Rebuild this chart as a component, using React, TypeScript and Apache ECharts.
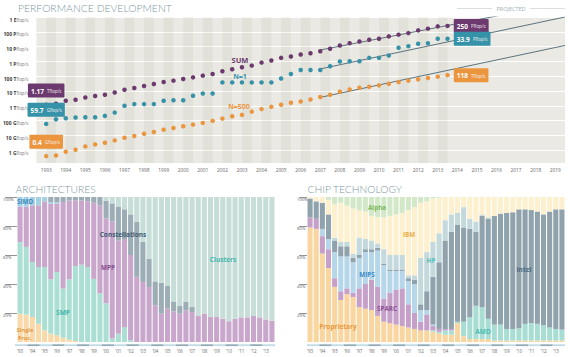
import React, { useEffect, useRef } from 'react';
import * as echarts from 'echarts';

// ---------- PERFORMANCE DEVELOPMENT ----------
const yearLabels = ['1993','1994','1995','1996','1997','1998','1999','2000','2001','2002','2003','2004','2005','2006','2007','2008','2009','2010','2011','2012','2013','2014','2015','2016','2017','2018','2019'];
const perfCategories: string[] = ['1992.5'];
for (const y of yearLabels) perfCategories.push(y, y + '.5');
const listDates = perfCategories.slice(1, 43); // June 1993 ... Nov 2013

const perfTickLabels = ['1 Gflop/s','10 Gflop/s','100 Gflop/s','1 Tflop/s','10 Tflop/s','100 Tflop/s','1 Pflop/s','10 Pflop/s','100 Pflop/s','1 Eflop/s'];

// values in Gflop/s
const sumGflops = [1170,1360,2180,2550,3650,4540,5570,7980,12200,15900,21700,29700,40700,49800,65000,83500,109000,142000,214000,292000,400000,520000,830000,1140000,1740000,2130000,2920000,3570000,4900000,7100000,11900000,17100000,22300000,29100000,34000000,49000000,64000000,82000000,125000000,163000000,233000000,250000000];
const n1Gflops = [59.7,124,145,160,170,170,208,347,1000,1300,1300,1300,2180,2380,2380,4760,6800,6800,38000,38000,38000,38000,38000,38000,70000,141000,265000,265000,265000,467000,975000,1020000,1020000,1740000,1740000,2500000,8300000,10700000,15500000,17000000,33900000,33900000];
const n500Gflops = [0.4,0.44,0.78,1.06,1.8,2.47,3.2,4.6,7.0,9.1,13,17,24.4,31.6,41.6,53.5,69.6,95,136,196,243,403,600,850,1165,1600,1950,2690,3900,5570,8900,12600,16600,19500,24000,31000,40500,50000,61000,76000,93000,118000];

const sumProjection: [string, number][] = [['2007', 5.9e6], ['2019.5', 9e9]];
const n1Projection: [string, number][] = [['2007', 3.1e5], ['2019.5', 1.0e9]];
const n500Projection: [string, number][] = [['2007', 3700], ['2019.5', 1.19e7]];

const stripeYears = yearLabels.slice(0, 21); // 1993..2013

// ---------- ARCHITECTURES (% of systems) ----------
const barYears = yearLabels.slice(0, 21);
const barCategories: string[] = [];
for (const y of barYears) barCategories.push(y, y + '.5');

const archSingle = [19.5,18.9,17.2,12.6,8.0,5.7,4.6,3.0,1.6,0.7,0,0,0,0,0,0,0,0,0,0,0,0,0,0,0,0,0,0,0,0,0,0,0,0,0,0,0,0,0,0,0,0];
const archSMP = [49.4,46.7,37.9,39.1,43.7,37.5,43.7,33.8,41.6,51.7,53.3,51.7,43.5,33.6,26.7,2.5,5.7,10.3,1.2,0,0,0,0,0,0,0,0,0,0,0,0,0,0,0,0,0,0,0,0,0,0,0];
const archMPP = [24.4,27.7,39.2,42.6,45.3,52.2,47.0,59.8,54.5,45.3,44.4,45.3,52.5,60.4,58.6,80.5,64.3,60.7,58.8,45,41.4,37.9,25.3,19.5,23,21.1,19.5,21.8,20.7,17.9,19.5,17.2,17.2,16.1,14.3,16.1,17,17,17.9,17,15.6,14.7];
const archSIMD = [6.7,6.7,5.7,5.7,3.0,1.2,1.1,0,0,0,0,0,0,0,0,0,0,0,0,0,0,0,0,0,0,0,0,0,0,0,0,0,0,0,0,0,0,0,0,0,0,0];
const archConstellations = [0,0,0,0,0,3.4,3.6,3.4,2.3,2.3,2.3,3.0,4.0,6.0,12.2,12.6,23.5,20.5,28,38,27.6,19.6,16.5,21.4,15.6,6.9,5.3,5.8,3.4,0,0,0,0,0,0,0,0,0,0,0,0,0];
const archClusters = [0,0,0,0,0,0,0,0,0,0,0,0,0,0,2.5,4.4,6.5,8.5,12,17,31,42.5,58.2,59.1,61.4,72,75.2,72.4,75.9,82.1,80.5,82.8,82.8,83.9,85.7,83.9,83,83,82.1,83,84.4,85.3];

// ---------- CHIP TECHNOLOGY (% of systems) ----------
const chipProprietary = [79,78,61,51,38,29,33,31,24,23,22,18,14,13,12,11,10,9,8,8,7,6,5,5,13,4,2,2,2,2,1,1,1,1,1,1,1,1,1,1,1,1];
const chipAMD = [0,0,0,0,0,0,0,0,0,0,0,0,0,0,0,0,0,0,0,0,1,1,3,3,1,10,15,23,22,14,11,11,8,8,8.5,11.5,12,11.5,10.5,9,8,7.5];
const chipSPARC = [7,7,12,13,6,6,4,3,13,17,21,20,16,21,24,26,16,11,6,11,3,2,1,1,0,0,0,0,0,0,0,0,0,0,0,0,0,0,0,0,0,0];
const chipMIPS = [0,0,5,7,18,24,22,21,21,22,19,25,23,15,13,12,16,20,8,3,1,0,0,0,0,0,0,0,0,0,0,0,0,0,0,0,0,0,0,0,0,0];
const chipIntel = [13,12,18,17,8,7,7,3,2,2,2,2,1,1,1,1,2,3,4,13,33,46,61,67,67,65,61,51,63,69,75,76.5,80,80.5,82,79,78,77.5,76.5,80,82.5,83];
const chipHP = [0,0,0,0,2,3,3,3,12,7,6,3,10,10,10,10,2,3,32,27,24,20,14,12,8,14,7,7,1,1,0,0,0,0,0,0,0,0,0,0,0,0];
const chipIBM = [1,3,4,10,23,27,25,31,19,19,17,18,22,27,28,29,45,47,38,35,30,24.5,16,12,11,7,15,17,12,14,13,11.5,11,10.5,8.5,8.5,9,10,12,10,8.5,8.5];
const chipAlpha = [0,0,0,2,5,4,6,8,9,10,13,14,14,13,12,11,9,7,4,3,1,0.5,0,0,0,0,0,0,0,0,0,0,0,0,0,0,0,0,0,0,0,0];

const FONT = 'Open Sans';

function boxLabel(num: string, unit: string, color: string, position: string, distance: number) {
  return {
    show: true,
    position,
    distance,
    formatter: `{a|${num}} {b|${unit}}`,
    backgroundColor: color,
    padding: [1.5, 3, 0.5, 3],
    borderRadius: 1,
    rich: {
      a: { color: '#fff', fontSize: 6.5, fontWeight: 'bold', fontFamily: FONT, lineHeight: 7 },
      b: { color: '#f4f0f4', fontSize: 4.5, fontFamily: FONT, lineHeight: 7 },
    },
  };
}

function perfSeries(name: string, values: number[], color: string, first: [string, string], last: [string, string]) {
  return {
    name,
    type: 'scatter',
    xAxisIndex: 0,
    yAxisIndex: 0,
    symbolSize: 4.5,
    z: 5,
    itemStyle: { color, opacity: 1 },
    data: values.map((v, i) => {
      const item: any = { value: [listDates[i], v] };
      if (i === 0) item.label = boxLabel(first[0], first[1], color, 'top', 5);
      if (i === values.length - 1) item.label = boxLabel(last[0], last[1], color, 'right', 4);
      return item;
    }),
  };
}

function projSeries(data: [string, number][], extra: any = {}) {
  return {
    type: 'line',
    xAxisIndex: 0,
    yAxisIndex: 0,
    data,
    symbol: 'none',
    z: 3,
    lineStyle: { color: '#4d6572', width: 0.9 },
    silent: true,
    ...extra,
  };
}

const archColors = { single: '#f9d9a9', smp: '#abdfd4', mpp: '#c9a6cc', simd: '#a6cfe4', const: '#9cadb5', clusters: '#c7ddd8' };
const chipColors = { prop: '#f9d6a0', amd: '#a8ddd3', sparc: '#c5a1c9', mips: '#b6d6ea', intel: '#90a2ac', hp: '#c4d9dc', ibm: '#fdf0cf', alpha: '#d3e8c8' };

function barSeries(name: string, data: number[], color: string, idx: number) {
  return {
    name,
    type: 'bar',
    stack: 'grid' + idx,
    xAxisIndex: idx,
    yAxisIndex: idx,
    data,
    barCategoryGap: '17%',
    itemStyle: { color },
    silent: true,
  };
}

function txt(text: string, x: number, y: number, fill: string, size: number, weight: string | number = 'bold', family = FONT, align = 'center') {
  return {
    type: 'text',
    x,
    y,
    z: 100,
    silent: true,
    style: { text, fill, font: `${weight} ${size}px "${family}"`, textAlign: align, textVerticalAlign: 'middle' },
  };
}

function barXAxis(gridIndex: number) {
  return {
    type: 'category',
    gridIndex,
    data: barCategories,
    offset: 3,
    axisLine: { show: false },
    axisTick: { show: false },
    axisLabel: {
      interval: 0,
      formatter: (v: string) => (v.includes('.') ? '' : "'" + v.slice(2)),
      fontSize: 4.5,
      color: '#6a6a6a',
      margin: 3.5,
      fontFamily: FONT,
    },
    splitLine: { show: false },
  };
}

// thin year strip under each bar chart
function stripXAxis(gridIndex: number) {
  return {
    type: 'category',
    gridIndex,
    data: barCategories,
    axisLine: { show: false },
    axisTick: { show: false },
    axisLabel: { show: false },
    splitLine: { show: false },
    splitArea: { show: true, interval: 1, areaStyle: { color: ['#c2dbe5', '#93abb6'] } },
  };
}
function stripYAxis(gridIndex: number) {
  return { type: 'value', gridIndex, min: 0, max: 1, show: false, splitLine: { show: false } };
}

function barYAxis(gridIndex: number, margin: number) {
  return {
    type: 'value',
    gridIndex,
    min: 0,
    max: 100,
    interval: 20,
    axisLine: { show: false },
    axisTick: { show: true, length: margin - 2, customValues: [20, 40, 60, 80, 100], lineStyle: { color: '#7a7a7a', width: 0.8 } },
    splitLine: { show: false },
    axisLabel: {
      formatter: (v: number) => (v === 0 ? '' : v + '%'),
      fontSize: 4.3,
      color: '#555',
      align: 'left',
      verticalAlign: 'top',
      margin,
      fontFamily: FONT,
    },
  };
}

const option: any = {
  animation: false,
  textStyle: { fontFamily: FONT },
  grid: [
    { left: 33, top: 17, width: 532, height: 146.3, show: true, backgroundColor: '#eae9e3', borderWidth: 0 },
    { left: 15, top: 197, width: 260, height: 145 },
    { left: 307, top: 197, width: 258, height: 145 },
    { left: 15, top: 344.3, width: 260, height: 1.8 },
    { left: 307, top: 344.3, width: 258, height: 1.8 },
  ],
  xAxis: [
    {
      type: 'category',
      gridIndex: 0,
      data: perfCategories,
      boundaryGap: false,
      axisLine: { show: false },
      axisTick: { show: false },
      splitLine: { show: false },
      axisLabel: {
        interval: 0,
        formatter: (v: string) => (v.includes('.') ? '' : v),
        fontSize: 4.8,
        color: '#666',
        margin: 4.5,
        fontFamily: FONT,
      },
    },
    barXAxis(1),
    barXAxis(2),
    stripXAxis(3),
    stripXAxis(4),
  ],
  yAxis: [
    {
      type: 'log',
      logBase: 10,
      gridIndex: 0,
      min: 0.13,
      max: 1e9,
      splitNumber: 10,
      axisLine: { show: false },
      axisTick: { show: false },
      splitLine: { show: true, lineStyle: { color: '#ffffff', width: 1 } },
      axisLabel: {
        margin: 8,
        verticalAlign: 'top',
        formatter: (v: number) => {
          const l = Math.log10(v);
          const e = Math.round(l);
          if (Math.abs(l - e) > 0.01 || e < 0 || e > 9) return '';
          const t = perfTickLabels[e];
          return `{n|${t.replace('flop/s', '')}}{u|flop/s}`;
        },
        rich: {
          n: { fontSize: 5, fontWeight: 'bold', color: '#3d3d3d', fontFamily: FONT },
          u: { fontSize: 4.5, color: '#777', fontFamily: FONT },
        },
      },
    },
    barYAxis(1, 14),
    barYAxis(2, 10),
    stripYAxis(3),
    stripYAxis(4),
  ],
  series: [
    projSeries(sumProjection, {
      markArea: {
        silent: true,
        itemStyle: { color: 'rgba(140,130,100,0.075)' },
        data: stripeYears.map((y) => [{ xAxis: y }, { xAxis: y + '.5' }]),
      },
    }),
    projSeries(n1Projection),
    projSeries(n500Projection),
    perfSeries('SUM', sumGflops, '#6c3a6e', ['1.17', 'Tflop/s'], ['250', 'Pflop/s']),
    perfSeries('N=1', n1Gflops, '#3592a8', ['59.7', 'Gflop/s'], ['33.9', 'Pflop/s']),
    perfSeries('N=500', n500Gflops, '#eb963f', ['0.4', 'Gflop/s'], ['118', 'Tflop/s']),

    barSeries('Single Proc.', archSingle, archColors.single, 1),
    barSeries('SMP', archSMP, archColors.smp, 1),
    barSeries('MPP', archMPP, archColors.mpp, 1),
    barSeries('SIMD', archSIMD, archColors.simd, 1),
    barSeries('Constellations', archConstellations, archColors.const, 1),
    barSeries('Clusters', archClusters, archColors.clusters, 1),

    barSeries('Proprietary', chipProprietary, chipColors.prop, 2),
    barSeries('AMD', chipAMD, chipColors.amd, 2),
    barSeries('SPARC', chipSPARC, chipColors.sparc, 2),
    barSeries('MIPS', chipMIPS, chipColors.mips, 2),
    barSeries('Intel', chipIntel, chipColors.intel, 2),
    barSeries('HP', chipHP, chipColors.hp, 2),
    barSeries('IBM', chipIBM, chipColors.ibm, 2),
    barSeries('Alpha', chipAlpha, chipColors.alpha, 2),
  ],
  graphic: [
    txt('PERFORMANCE DEVELOPMENT', 18, 8, '#7d97a2', 10.4, 300, 'Lato', 'left'),
    txt('ARCHITECTURES', 15.5, 189, '#7d97a2', 10.3, 300, 'Lato', 'left'),
    txt('CHIP TECHNOLOGY', 307.5, 189, '#7d97a2', 10.3, 300, 'Lato', 'left'),
    txt('PROJECTED', 511, 8.5, '#9db1ba', 5.5, 400),
    { type: 'line', silent: true, shape: { x1: 457, y1: 8.5, x2: 492, y2: 8.5 }, style: { stroke: '#cfd8dc', lineWidth: 0.8 } },
    { type: 'line', silent: true, shape: { x1: 530, y1: 8.5, x2: 565, y2: 8.5 }, style: { stroke: '#cfd8dc', lineWidth: 0.8 } },
    txt('SUM', 240, 60, '#6c3a6e', 7.5),
    txt('N=1', 240, 76, '#3592a8', 7),
    txt('N=500', 239, 106, '#eb963f', 7),

    txt('SIMD', 25, 201.5, '#3a8dc2', 6.3),
    txt('Constellations', 123, 234, '#3f5b72', 6.5),
    txt('MPP', 108, 267, '#8a4c8f', 6.3),
    txt('Clusters', 223, 259, '#45b6ad', 6.5),
    txt('SMP', 63, 312, '#3fb8a8', 6.5),
    txt('Single', 25, 330, '#e39a45', 5.6),
    txt('Proc.', 25, 338.2, '#e39a45', 5.6),

    txt('Alpha', 377, 207.5, '#78b85a', 6.3),
    txt('IBM', 409, 234, '#e9ad4c', 6.3),
    txt('HP', 431, 260, '#4cc0b5', 6.3),
    txt('MIPS', 367, 274.5, '#3b8bc8', 6.3),
    txt('Intel', 524, 269, '#4a6980', 6.5),
    txt('SPARC', 387, 308.5, '#8c4c93', 6.3),
    txt('Proprietary', 338, 326, '#e69a40', 6.5),
    txt('AMD', 483, 331, '#4cbcb0', 6.5),
  ],
};

export default function App() {
  const ref = useRef<HTMLDivElement>(null);
  useEffect(() => {
    const chart = echarts.init(ref.current as HTMLDivElement, null, { renderer: 'svg' });
    chart.setOption(option);
    return () => chart.dispose();
  }, []);
  return <div ref={ref} style={{ position: 'absolute', left: 0, top: 0, width: 570, height: 357 }} />;
}
